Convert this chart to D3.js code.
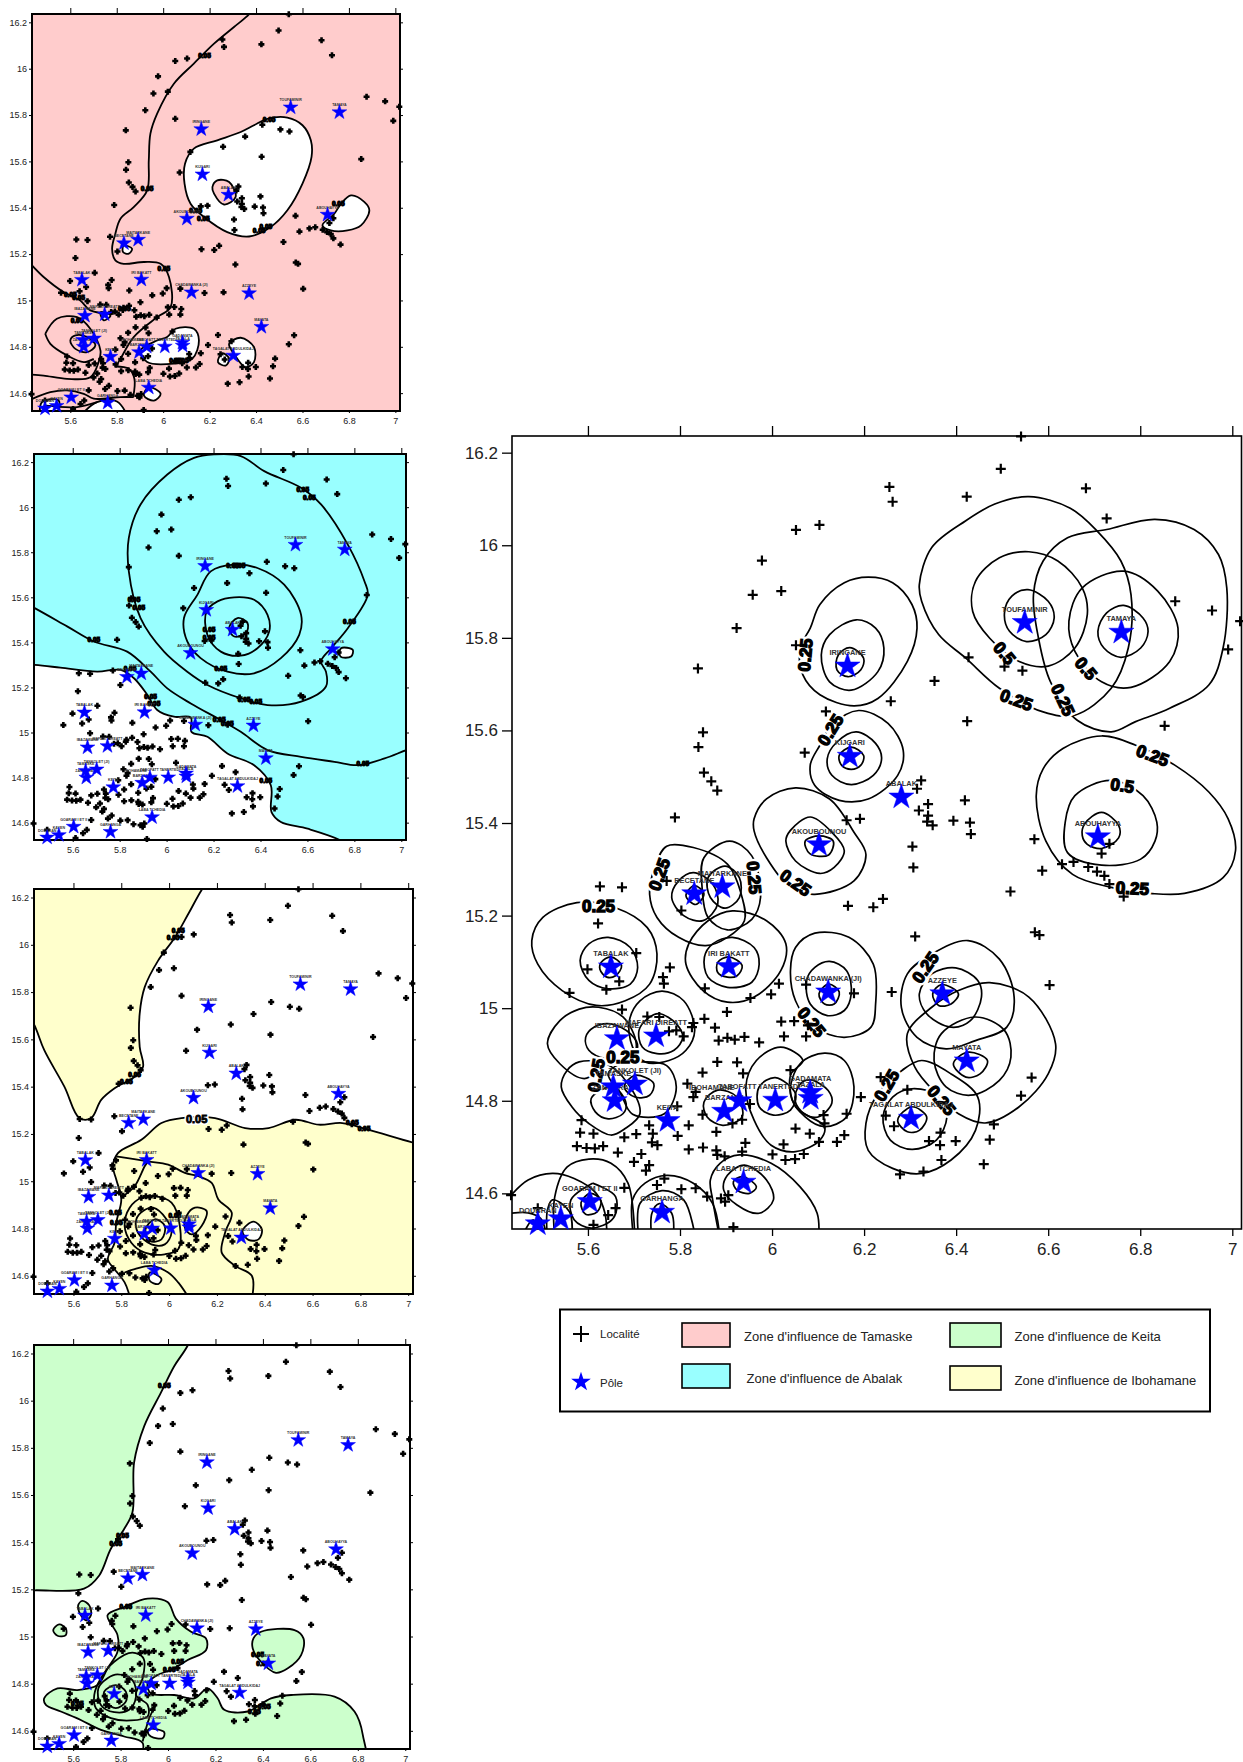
<!DOCTYPE html>
<html>
<head>
<meta charset="utf-8">
<title>Zones d'influence</title>
<script src="https://cdn.jsdelivr.net/npm/d3@7"></script>
<style>
  body { margin: 0; background: #fff; }
  svg { display: block; }
  text { font-family: "Liberation Sans", Arial, sans-serif; }
</style>
</head>
<body>
<div id="chart"></div>
<script>
// axis values
const lonTicks = [5.6, 5.8, 6, 6.2, 6.4, 6.6, 6.8, 7];
const latTicks = [14.6, 14.8, 15, 15.2, 15.4, 15.6, 15.8, 16, 16.2];
const lonDomain = [5.435, 7.02];
const latDomain = [14.523, 16.236];

// poles
const poleNames = ['TOUFAMINIR','TAMAYA','IRINGANE','KIJGARI','ABALAK','AKOUBOUNOU','ABOUHAYYA','MAITARKANE','BECETANE','TABALAK','IRI BAKATT','CHADAWANKA (JI)','AZZEYE','IBAZAWANE','MAFARI DIREATT','MAYATA','TANKOLET (JI)','TAMASKE','ZANGARATA','KEITA','BARZANKI','IBOHAMANE','TABOFATT TANERTEDI','GADAMATA','TAZALA','TAGALAT ABDULKIDAJ','LABA TCHEDIA','GOARAM I ET II','GARHANGA','DOUBRAN','KAYEN'];
const poleLon = [6.549,6.759,6.164,6.169,6.281,6.102,6.708,5.892,5.831,5.650,5.906,6.122,6.370,5.663,5.748,6.423,5.702,5.655,5.658,5.773,5.896,5.929,6.007,6.083,6.084,6.302,5.938,5.604,5.761,5.491,5.541];
const poleLat = [15.833,15.812,15.739,15.544,15.456,15.353,15.370,15.262,15.247,15.089,15.090,15.035,15.031,14.934,14.940,14.886,14.836,14.830,14.800,14.757,14.777,14.800,14.801,14.818,14.805,14.762,14.624,14.582,14.559,14.534,14.545];
const labelShift = { 'IBOHAMANE': -0.06, 'TABOFATT TANERTEDI': -0.035 };

// localites
const localities = [
[6.541,16.235],[6.497,16.165],[6.255,16.126],[6.262,16.094],[6.423,16.105],[6.682,16.123],[6.727,16.058],[6.052,16.033],[6.103,16.044],[5.978,15.967],[5.958,15.893],[6.020,15.901],[5.923,15.821],[6.052,15.784],[5.839,15.734],[6.427,15.758],[6.505,15.738],[6.544,15.729],[6.353,15.707],[6.258,15.663],[6.117,15.641],[6.424,15.620],[6.876,15.879],[6.956,15.859],[7.017,15.836],[6.991,15.775],[6.853,15.610],[5.850,15.596],[5.840,15.564],[6.071,15.552],[5.852,15.509],[5.868,15.490],[5.881,15.470],[6.324,15.492],[6.315,15.474],[6.339,15.441],[6.319,15.427],[6.339,15.416],[6.337,15.403],[6.349,15.395],[6.419,15.449],[6.394,15.405],[6.430,15.401],[6.432,15.376],[5.789,15.412],[6.162,15.406],[6.191,15.409],
[6.305,15.349],[6.307,15.304],[6.570,15.365],[6.630,15.311],[6.655,15.316],[6.687,15.305],[6.706,15.295],[6.722,15.286],[6.733,15.268],[6.764,15.241],[6.716,15.334],[6.733,15.355],[6.587,15.297],[6.518,15.252],[6.165,15.221],[6.220,15.218],[6.241,15.236],[6.311,15.155],[6.571,15.164],[6.581,15.158],[6.603,15.050],[6.260,15.035],[5.626,15.263],[5.674,15.261],[5.622,15.183],[5.771,15.275],[5.803,15.211],[5.705,15.119],[5.599,15.084],[5.668,15.058],[5.640,15.040],[5.560,15.033],[5.778,15.088],[5.763,15.067],[5.765,15.053],[5.854,15.043],[6.015,15.053],[5.998,15.030],[5.953,15.022],[6.074,15.051],[6.178,15.032],[5.902,14.992],[5.674,14.997],[5.729,14.982],[5.755,14.981],[5.853,14.977],[5.829,14.968],[5.826,14.959],[5.876,14.958],[6.020,14.971],[6.048,14.972],[6.078,14.963],[6.026,14.939],[6.074,14.939],[5.940,14.938],[5.972,14.926],[5.884,14.930],[5.903,14.936],[5.919,14.932],[5.808,14.939],[5.792,14.952],[5.776,14.950],[5.881,14.884],[5.924,14.883],[5.849,14.861],[5.937,14.859],[6.040,14.866],[5.816,14.837],[5.834,14.819],[5.829,14.808],[5.794,14.788],[5.952,14.793],[5.849,14.770],[5.935,14.759],[5.914,14.751],[6.112,14.769],[6.114,14.751],[6.162,14.772],[6.193,14.808],[6.236,14.851],[6.564,14.850],[6.541,14.811],[6.294,14.824],[6.247,14.768],[6.265,14.745],[6.366,14.731],[6.341,14.713],[6.365,14.704],[6.399,14.713],[6.368,14.672],[6.473,14.716],[6.482,14.749],[6.460,14.663],[6.278,14.641],[6.329,14.647],
[5.586,14.758],[5.583,14.731],[5.612,14.729],[5.679,14.721],[5.705,14.728],[5.741,14.729],[5.733,14.747],[5.819,14.747],[5.795,14.724],[5.739,14.710],[5.751,14.704],[5.576,14.702],[5.597,14.698],[5.615,14.697],[5.633,14.702],[5.665,14.688],[5.716,14.685],[5.700,14.668],[5.733,14.661],[5.726,14.649],[5.819,14.695],[5.850,14.699],[5.879,14.693],[5.881,14.683],[5.897,14.680],[5.935,14.690],[5.942,14.709],[5.879,14.733],[6.025,14.706],[6.001,14.684],[6.029,14.672],[6.050,14.674],[6.069,14.685],[6.102,14.711],[6.051,14.740],[6.082,14.729],[6.141,14.711],[6.157,14.726],[5.766,14.632],[5.750,14.618],[5.803,14.609],[5.834,14.611],[5.859,14.593],[5.889,14.589],[5.905,14.596],[5.898,14.582],[5.679,14.612],[5.660,14.568],[5.644,14.553],[5.612,14.532],[5.433,14.596],[5.491,14.568],[5.916,14.527]
];

// main map contours (closed)
const mainRings = [
[[6.558,16.105],[6.648,16.080],[6.706,16.031],[6.758,15.966],[6.780,15.893],[6.774,15.778],[6.737,15.691],[6.658,15.633],[6.589,15.640],[6.494,15.691],[6.421,15.756],[6.362,15.807],[6.325,15.879],[6.320,15.915],[6.347,15.995],[6.421,16.053],[6.484,16.089]],
[[6.558,15.986],[6.621,15.966],[6.674,15.908],[6.685,15.850],[6.658,15.778],[6.600,15.739],[6.537,15.749],[6.473,15.799],[6.436,15.857],[6.442,15.922],[6.494,15.973]],
[[6.556,15.904],[6.600,15.879],[6.613,15.843],[6.595,15.807],[6.553,15.792],[6.516,15.814],[6.505,15.854],[6.521,15.890]],
[[6.832,16.056],[6.917,16.034],[6.970,15.980],[6.988,15.908],[6.980,15.778],[6.949,15.698],[6.864,15.648],[6.790,15.619],[6.737,15.597],[6.663,15.622],[6.605,15.705],[6.579,15.799],[6.568,15.893],[6.589,15.966],[6.642,16.016],[6.727,16.034]],
[[6.764,15.944],[6.838,15.901],[6.882,15.821],[6.864,15.749],[6.780,15.693],[6.716,15.705],[6.658,15.771],[6.645,15.836],[6.674,15.908]],
[[6.764,15.870],[6.806,15.843],[6.817,15.814],[6.801,15.778],[6.758,15.758],[6.721,15.778],[6.708,15.814],[6.727,15.854]],
[[6.209,15.931],[6.262,15.919],[6.304,15.872],[6.315,15.821],[6.294,15.749],[6.230,15.669],[6.178,15.653],[6.104,15.677],[6.067,15.720],[6.061,15.778],[6.083,15.821],[6.104,15.872],[6.157,15.919]],
[[6.183,15.839],[6.225,15.821],[6.243,15.778],[6.230,15.727],[6.172,15.687],[6.125,15.705],[6.107,15.763],[6.125,15.807]],
[[6.169,15.779],[6.199,15.756],[6.193,15.731],[6.165,15.716],[6.141,15.731],[6.144,15.763]],
[[6.188,15.643],[6.252,15.615],[6.285,15.557],[6.273,15.503],[6.209,15.452],[6.146,15.449],[6.093,15.481],[6.083,15.525],[6.104,15.568],[6.130,15.611]],
[[6.183,15.597],[6.225,15.572],[6.238,15.539],[6.220,15.503],[6.172,15.483],[6.130,15.503],[6.120,15.539],[6.141,15.575]],
[[6.172,15.564],[6.199,15.546],[6.193,15.525],[6.172,15.516],[6.151,15.525],[6.146,15.546]],
[[6.051,15.476],[6.125,15.452],[6.178,15.380],[6.204,15.332],[6.178,15.275],[6.093,15.246],[6.040,15.261],[5.988,15.325],[5.961,15.383],[5.961,15.409],[5.988,15.452]],
[[6.083,15.413],[6.130,15.380],[6.157,15.340],[6.135,15.304],[6.104,15.291],[6.051,15.318],[6.030,15.361],[6.040,15.384]],
[[6.103,15.372],[6.133,15.361],[6.123,15.331],[6.082,15.334],[6.072,15.361]],
[[6.716,15.588],[6.790,15.568],[6.875,15.525],[6.949,15.467],[6.991,15.409],[7.007,15.340],[6.980,15.282],[6.896,15.248],[6.822,15.248],[6.737,15.261],[6.653,15.289],[6.595,15.361],[6.574,15.459],[6.589,15.517],[6.632,15.561]],
[[6.737,15.492],[6.806,15.459],[6.836,15.402],[6.832,15.361],[6.801,15.322],[6.716,15.309],[6.642,15.336],[6.637,15.402],[6.658,15.459]],
[[6.716,15.423],[6.753,15.395],[6.753,15.368],[6.716,15.345],[6.685,15.354],[6.674,15.373],[6.679,15.398]],
[[5.908,15.361],[5.956,15.329],[5.975,15.239],[5.956,15.192],[5.903,15.169],[5.861,15.196],[5.848,15.261],[5.852,15.325]],
[[5.898,15.307],[5.929,15.282],[5.929,15.239],[5.898,15.216],[5.866,15.239],[5.861,15.282]],
[[5.771,15.350],[5.829,15.347],[5.903,15.311],[5.935,15.239],[5.940,15.189],[5.903,15.153],[5.856,15.135],[5.797,15.153],[5.750,15.196],[5.734,15.246],[5.745,15.304]],
[[5.829,15.293],[5.871,15.268],[5.882,15.225],[5.850,15.189],[5.808,15.200],[5.782,15.239],[5.797,15.275]],
[[5.831,15.265],[5.852,15.247],[5.834,15.224],[5.813,15.243]],
[[5.914,15.210],[5.988,15.189],[6.030,15.139],[6.019,15.081],[5.961,15.024],[5.903,15.013],[5.850,15.038],[5.813,15.095],[5.819,15.139],[5.861,15.189]],
[[5.914,15.153],[5.961,15.131],[5.972,15.095],[5.956,15.056],[5.903,15.045],[5.861,15.067],[5.853,15.110],[5.871,15.139]],
[[5.906,15.111],[5.935,15.092],[5.924,15.070],[5.903,15.067],[5.882,15.077],[5.882,15.099]],
[[5.576,15.228],[5.660,15.217],[5.729,15.174],[5.750,15.117],[5.734,15.052],[5.681,15.016],[5.618,15.006],[5.544,15.038],[5.491,15.095],[5.478,15.146],[5.502,15.196]],
[[5.644,15.153],[5.692,15.131],[5.708,15.088],[5.692,15.052],[5.644,15.042],[5.602,15.060],[5.583,15.103],[5.602,15.139]],
[[5.650,15.111],[5.673,15.092],[5.660,15.070],[5.641,15.067],[5.626,15.084],[5.629,15.099]],
[[6.093,15.162],[6.167,15.153],[6.220,15.095],[6.225,15.009],[6.215,14.959],[6.157,14.937],[6.093,14.959],[6.051,15.016],[6.040,15.081],[6.051,15.131]],
[[6.125,15.101],[6.162,15.081],[6.172,15.031],[6.157,14.995],[6.120,14.984],[6.083,15.009],[6.075,15.060],[6.093,15.088]],
[[6.123,15.052],[6.146,15.035],[6.135,15.009],[6.114,15.009],[6.102,15.031]],
[[6.426,15.146],[6.494,15.106],[6.526,15.024],[6.510,14.959],[6.442,14.930],[6.378,14.912],[6.315,14.937],[6.281,15.002],[6.294,15.074],[6.347,15.117]],
[[6.399,15.087],[6.447,15.060],[6.455,15.024],[6.431,14.973],[6.389,14.959],[6.336,14.988],[6.320,15.031],[6.347,15.074]],
[[6.368,15.051],[6.405,15.031],[6.389,15.009],[6.362,15.006],[6.349,15.031]],
[[6.473,15.055],[6.558,15.024],[6.616,14.923],[6.600,14.858],[6.537,14.787],[6.463,14.752],[6.405,14.772],[6.357,14.815],[6.310,14.873],[6.294,14.945],[6.347,15.002],[6.405,15.038]],
[[6.442,14.981],[6.505,14.952],[6.519,14.894],[6.494,14.844],[6.431,14.812],[6.378,14.830],[6.352,14.887],[6.368,14.945]],
[[6.426,14.905],[6.468,14.887],[6.452,14.858],[6.421,14.851],[6.394,14.880]],
[[6.325,14.887],[6.389,14.858],[6.447,14.808],[6.442,14.736],[6.389,14.672],[6.325,14.643],[6.262,14.654],[6.209,14.693],[6.204,14.751],[6.230,14.815],[6.283,14.866]],
[[6.304,14.826],[6.368,14.808],[6.380,14.765],[6.357,14.715],[6.304,14.695],[6.257,14.715],[6.241,14.765],[6.262,14.808]],
[[6.304,14.787],[6.336,14.765],[6.320,14.736],[6.294,14.733],[6.273,14.758]],
[[6.114,14.903],[6.157,14.887],[6.178,14.830],[6.162,14.765],[6.114,14.744],[6.072,14.765],[6.040,14.815],[6.061,14.880]],
[[6.083,14.845],[6.122,14.822],[6.130,14.795],[6.100,14.765],[6.070,14.772],[6.050,14.800],[6.060,14.835]],
[[6.019,14.916],[6.067,14.887],[6.040,14.855],[6.051,14.787],[6.114,14.744],[6.104,14.715],[6.051,14.690],[5.998,14.704],[5.961,14.758],[5.943,14.830],[5.966,14.887]],
[[6.007,14.850],[6.051,14.815],[6.040,14.780],[6.003,14.769],[5.972,14.787],[5.972,14.830]],
[[5.882,14.823],[5.924,14.808],[5.935,14.765],[5.893,14.747],[5.859,14.765],[5.852,14.797]],
[[5.581,14.884],[5.639,14.880],[5.687,14.837],[5.713,14.772],[5.681,14.740],[5.650,14.726],[5.602,14.751],[5.565,14.787],[5.542,14.830],[5.555,14.866]],
[[5.655,14.830],[5.683,14.794],[5.676,14.772],[5.644,14.761],[5.616,14.776],[5.607,14.805]],
[[5.718,14.884],[5.771,14.876],[5.792,14.830],[5.766,14.772],[5.697,14.771],[5.671,14.815],[5.644,14.858],[5.671,14.880]],
[[5.702,14.855],[5.743,14.837],[5.734,14.812],[5.702,14.808],[5.679,14.830]],
[[5.623,15.002],[5.676,14.981],[5.705,14.923],[5.692,14.880],[5.644,14.880],[5.592,14.848],[5.539,14.880],[5.512,14.923],[5.539,14.973],[5.581,14.998]],
[[5.650,14.966],[5.692,14.945],[5.708,14.916],[5.687,14.894],[5.639,14.891],[5.602,14.909],[5.595,14.937],[5.613,14.959]],
[[5.761,15.037],[5.808,15.016],[5.832,14.952],[5.813,14.909],[5.776,14.887],[5.724,14.884],[5.697,14.916],[5.690,14.973],[5.713,15.016]],
[[5.755,14.988],[5.792,14.966],[5.806,14.937],[5.787,14.909],[5.750,14.902],[5.718,14.916],[5.711,14.952],[5.729,14.977]],
[[5.605,14.600],[5.628,14.585],[5.620,14.560],[5.595,14.555],[5.585,14.580]],
[[5.940,14.661],[5.988,14.629],[6.003,14.586],[5.972,14.557],[5.924,14.575],[5.895,14.607],[5.903,14.639]],
[[5.935,14.636],[5.966,14.614],[5.951,14.600],[5.924,14.607],[5.916,14.625]]
];
// main map contours cut by the lower frame
const mainLines = [
[[5.528,14.500],[5.528,14.593],[5.555,14.657],[5.602,14.674],[5.650,14.665],[5.687,14.622],[5.702,14.500]],
[[5.610,14.622],[5.660,14.593],[5.655,14.546],[5.607,14.525],[5.570,14.543],[5.563,14.586],[5.610,14.622]],
[[5.433,14.596],[5.470,14.629],[5.523,14.643],[5.570,14.632],[5.618,14.600],[5.637,14.557],[5.641,14.500]],
[[5.433,14.557],[5.470,14.558],[5.497,14.546],[5.512,14.500]],
[[5.512,14.500],[5.512,14.564],[5.523,14.586],[5.560,14.560],[5.565,14.500]],
[[5.454,14.500],[5.481,14.543],[5.502,14.500]],
[[5.700,14.500],[5.697,14.586],[5.724,14.622],[5.771,14.639],[5.829,14.622],[5.871,14.578],[5.887,14.500]],
[[5.711,14.500],[5.713,14.578],[5.761,14.606],[5.808,14.586],[5.834,14.500]],
[[5.739,14.500],[5.739,14.557],[5.755,14.578],[5.782,14.557],[5.785,14.500]],
[[5.887,14.500],[5.871,14.586],[5.866,14.629],[5.887,14.665],[5.929,14.683],[5.998,14.665],[6.061,14.614],[6.098,14.557],[6.101,14.500]]
];
const mainLabels = ['0.25','0.25','0.5','0.5','0.25','0.25','0.25','0.5','0.25','0.25','0.25','0.25','0.25','0.25','0.25','0.25','0.25','0.25','0.25'];
const mainLabelLon = [6.072,6.127,6.505,6.682,6.531,6.632,6.827,6.761,6.783,5.755,5.961,6.051,5.623,6.333,6.086,5.676,5.618,6.249,6.368];
const mainLabelLat = [15.763,15.601,15.767,15.734,15.666,15.666,15.546,15.481,15.259,15.289,15.282,15.271,15.221,15.088,14.970,14.894,14.855,14.833,14.801];
const mainLabelAngle = [-85,-58,50,50,20,65,20,8,3,-70,85,35,0,-55,50,0,-80,-60,50];

// Tamaske
const tamaskeHoles = [
[[6.535,15.789],[6.600,15.756],[6.636,15.691],[6.639,15.619],[6.600,15.504],[6.535,15.389],[6.463,15.317],[6.370,15.276],[6.276,15.295],[6.176,15.360],[6.118,15.417],[6.092,15.504],[6.094,15.590],[6.132,15.655],[6.233,15.691],[6.334,15.727],[6.391,15.756],[6.449,15.784]],
[[6.809,15.453],[6.866,15.425],[6.888,15.389],[6.852,15.324],[6.794,15.302],[6.722,15.302],[6.686,15.324],[6.737,15.374],[6.766,15.417]],
[[6.053,14.878],[6.132,14.878],[6.154,14.827],[6.125,14.748],[6.046,14.727],[5.931,14.734],[5.902,14.784],[5.974,14.827],[6.017,14.842]],
[[6.334,14.839],[6.391,14.799],[6.391,14.734],[6.355,14.712],[6.305,14.770],[6.284,14.813]],
[[6.255,14.773],[6.284,14.748],[6.269,14.719],[6.236,14.734]],
[[5.830,15.237],[5.866,15.223],[5.852,15.202],[5.827,15.209]],
[[5.938,14.626],[5.989,14.597],[5.960,14.568],[5.917,14.590]],
[[5.715,14.561],[5.801,14.564],[5.845,14.480],[5.636,14.480]],
[[5.478,14.561],[5.550,14.568],[5.528,14.480],[5.478,14.480]],
[[5.730,14.950],[5.773,14.935],[5.744,14.914]]
];
const tamaskeIsland = [[6.233,15.518],[6.284,15.511],[6.312,15.446],[6.262,15.414],[6.219,15.461],[6.212,15.489]];
const tamaskeLines = [
[[6.400,16.280],[6.370,16.235],[6.305,16.180],[6.219,16.108],[6.132,16.022],[6.046,15.935],[5.974,15.806],[5.945,15.720],[5.938,15.604],[5.931,15.475],[5.873,15.403],[5.816,15.353],[5.794,15.288],[5.780,15.223],[5.794,15.173],[5.830,15.158],[5.917,15.166],[5.989,15.158],[6.025,15.101],[6.032,14.971],[5.974,14.928],[5.873,14.842],[5.816,14.748],[5.794,14.712]],
[[5.794,14.715],[5.852,14.705],[5.876,14.662],[5.871,14.583]],
[[5.435,15.151],[5.485,15.101],[5.571,15.036],[5.643,15.000],[5.686,14.957],[5.787,14.942]],
[[5.492,14.856],[5.542,14.921],[5.629,14.928],[5.686,14.878],[5.730,14.784],[5.722,14.734],[5.686,14.669],[5.586,14.662],[5.485,14.676],[5.420,14.681]],
[[5.492,14.856],[5.514,14.813],[5.586,14.763],[5.658,14.734],[5.701,14.748]],
[[5.420,14.568],[5.514,14.604],[5.586,14.612],[5.658,14.597],[5.701,14.576],[5.816,14.583],[5.873,14.583]],
[[5.485,14.547],[5.629,14.540],[5.715,14.561]]
];
const tamaskeRings = [[[5.600,14.827],[5.622,14.849],[5.672,14.842],[5.708,14.806],[5.672,14.777],[5.622,14.791]]];
const tamaskeBlobs = [[6.456,15.780],[6.173,15.353],[6.140,15.386],[6.442,15.317],[6.413,15.299],[6.053,14.738],[6.082,14.741],[6.003,15.137],[5.931,15.482],[5.600,15.026],[5.636,15.012],[5.629,14.914],[5.833,14.964],[6.754,15.417],[6.178,16.058]];

// Abalak
const abalakWhite = [[5.300,15.310],[5.438,15.300],[5.547,15.288],[5.704,15.270],[5.804,15.278],[5.861,15.241],[5.918,15.167],[5.960,15.100],[6.031,15.070],[6.103,15.066],[6.106,15.003],[6.174,14.981],[6.259,14.907],[6.373,14.855],[6.444,14.766],[6.447,14.647],[6.487,14.603],[6.601,14.573],[6.743,14.521],[6.850,14.450],[5.300,14.400]];
const abalakHole = [[6.743,15.374],[6.793,15.367],[6.786,15.337],[6.741,15.337]];
const abalakLines = [[[5.350,15.600],[5.438,15.552],[5.576,15.471],[5.690,15.404],[5.832,15.359],[5.932,15.270],[6.003,15.196],[6.103,15.129],[6.231,15.055],[6.316,15.003],[6.430,14.922],[6.573,14.892],[6.715,14.870],[6.815,14.855],[6.929,14.885],[7.021,14.922],[7.100,14.950]]];
const abalakRings = [
[[6.202,16.234],[6.316,16.227],[6.416,16.160],[6.573,16.086],[6.658,16.012],[6.772,15.834],[6.843,15.671],[6.857,15.611],[6.772,15.463],[6.701,15.374],[6.658,15.315],[6.679,15.270],[6.679,15.204],[6.573,15.137],[6.430,15.122],[6.316,15.152],[6.174,15.211],[6.088,15.270],[5.989,15.359],[5.889,15.508],[5.839,15.715],[5.839,15.864],[5.889,16.012],[6.003,16.145],[6.117,16.219]],
[[6.288,15.745],[6.387,15.730],[6.501,15.656],[6.573,15.522],[6.565,15.433],[6.487,15.330],[6.373,15.263],[6.259,15.270],[6.145,15.330],[6.088,15.404],[6.074,15.508],[6.131,15.611],[6.188,15.715]],
[[6.288,15.600],[6.373,15.589],[6.430,15.522],[6.437,15.448],[6.387,15.374],[6.316,15.341],[6.231,15.359],[6.174,15.433],[6.170,15.537],[6.217,15.582]],
[[6.302,15.508],[6.345,15.485],[6.338,15.441],[6.288,15.426],[6.266,15.463]]
];
const abalakBlobs = [[6.281,15.742],[6.309,15.742],[6.231,15.285],[6.330,15.144],[6.380,15.137],[5.690,15.411],[5.882,15.552],[5.861,15.589],[6.580,16.079],[6.608,16.044],[6.779,15.493],[5.932,15.159],[5.946,15.129],[6.836,14.862],[6.423,14.788],[6.181,15.456],[6.181,15.419],[5.844,15.285],[6.224,15.055],[6.259,15.040]];

// Ibohamane
const ibohamaneNW = [[5.300,16.400],[6.250,16.400],[6.136,16.232],[6.080,16.130],[6.024,16.031],[5.954,15.933],[5.898,15.821],[5.877,15.709],[5.877,15.568],[5.891,15.484],[5.856,15.442],[5.772,15.393],[5.716,15.344],[5.674,15.267],[5.625,15.267],[5.562,15.400],[5.478,15.554],[5.440,15.653],[5.300,15.950]];
const ibohamaneSE = [[7.200,15.120],[7.029,15.161],[6.836,15.217],[6.724,15.246],[6.626,15.239],[6.528,15.260],[6.416,15.225],[6.318,15.225],[6.192,15.267],[6.052,15.267],[5.968,15.246],[5.884,15.175],[5.786,15.119],[5.765,15.063],[5.779,15.007],[5.800,14.923],[5.779,14.825],[5.772,14.740],[5.744,14.670],[5.772,14.628],[5.814,14.572],[5.835,14.516],[5.870,14.400],[7.200,14.400]];
const ibohamaneHoles = [
[[6.353,14.829],[6.388,14.796],[6.374,14.754],[6.332,14.752],[6.307,14.789]],
[[5.919,14.614],[5.968,14.586],[5.954,14.565],[5.919,14.579]]
];
const ibohamaneLines = [
[[5.779,15.105],[5.912,15.084],[5.996,15.070],[6.066,15.035],[6.122,15.021],[6.178,14.993],[6.206,14.923],[6.262,14.867],[6.234,14.782],[6.220,14.698],[6.276,14.642],[6.346,14.600],[6.346,14.500]],
[[5.912,15.084],[5.898,15.063],[5.856,14.979],[5.807,14.937]],
[[5.814,14.614],[5.856,14.628],[5.926,14.642],[5.996,14.614],[6.038,14.572],[6.087,14.500]]
];
const ibohamaneRings = [
[[5.940,14.937],[6.010,14.909],[6.045,14.811],[6.038,14.712],[5.982,14.691],[5.898,14.698],[5.842,14.740],[5.814,14.811],[5.835,14.888],[5.884,14.930]],
[[5.933,14.888],[5.989,14.839],[6.010,14.782],[5.982,14.733],[5.926,14.733],[5.870,14.782],[5.863,14.839],[5.891,14.874]],
[[5.940,14.839],[5.982,14.811],[5.968,14.754],[5.919,14.747],[5.901,14.796]],
[[6.108,14.888],[6.157,14.874],[6.136,14.811],[6.094,14.775],[6.066,14.803],[6.073,14.853]]
];
const ibohamaneBlobs = [[6.038,16.060],[6.017,16.029],[5.856,15.449],[5.821,15.421],[6.766,15.246],[6.815,15.224],[5.775,14.867],[5.779,14.825],[6.024,14.853]];

// Keita
const keitaNW = [[6.083,16.234],[6.150,16.400],[5.300,16.400],[5.300,15.196],[5.440,15.196],[5.646,15.203],[5.710,15.259],[5.759,15.372],[5.815,15.456],[5.850,15.527],[5.857,15.738],[5.900,15.893],[5.970,16.034],[6.026,16.146]];
const keitaMain = [[5.745,15.090],[5.815,15.125],[5.914,15.161],[5.998,15.146],[6.033,15.076],[6.097,15.020],[6.160,14.992],[6.160,14.942],[6.083,14.900],[6.012,14.858],[5.956,14.837],[5.914,14.801],[5.928,14.759],[6.026,14.752],[6.111,14.738],[6.167,14.780],[6.209,14.738],[6.237,14.689],[6.336,14.682],[6.434,14.738],[6.519,14.752],[6.702,14.745],[6.786,14.682],[6.821,14.583],[6.821,14.400],[5.886,14.400],[5.893,14.548],[5.815,14.576],[5.717,14.604],[5.632,14.646],[5.548,14.682],[5.485,14.710],[5.478,14.738],[5.534,14.780],[5.618,14.773],[5.703,14.794],[5.745,14.865],[5.787,14.935],[5.787,15.006]];
const keitaPatches = [
[[6.392,15.020],[6.533,15.027],[6.571,14.992],[6.561,14.921],[6.505,14.865],[6.455,14.846],[6.392,14.893],[6.357,14.949],[6.360,14.992]],
[[5.639,15.151],[5.668,15.132],[5.675,15.090],[5.653,15.069],[5.625,15.104],[5.621,15.132]],
[[5.541,15.051],[5.569,15.034],[5.569,15.006],[5.534,15.003],[5.516,15.027]]
];
const keitaHole = [[5.921,14.608],[5.984,14.594],[5.977,14.569],[5.928,14.576],[5.914,14.597]];
const keitaRings = [
[[5.850,14.932],[5.897,14.907],[5.893,14.823],[5.865,14.752],[5.914,14.710],[5.914,14.661],[5.843,14.644],[5.759,14.654],[5.696,14.696],[5.689,14.752],[5.717,14.823],[5.773,14.893]],
[[5.787,14.839],[5.850,14.815],[5.865,14.745],[5.836,14.689],[5.773,14.679],[5.717,14.710],[5.706,14.780],[5.745,14.823]],
[[5.780,14.794],[5.822,14.766],[5.822,14.724],[5.780,14.696],[5.738,14.724],[5.731,14.766]]
];
const keitaLines = [[[5.949,14.710],[5.921,14.654],[5.893,14.555]]];
const keitaBlobs = [[5.984,16.062],[5.808,15.428],[5.780,15.393],[5.822,15.125],[6.040,14.893],[6.005,14.858],[6.378,14.921],[6.399,14.886],[6.406,14.703],[6.364,14.682],[5.618,14.717]];

// legend
const legendZones = ["Zone d'influence de Tamaske", "Zone d'influence de Keita", "Zone d'influence de Abalak", "Zone d'influence de Ibohamane"];
const colTamaske = '#ffcccc', colAbalak = '#99ffff', colKeita = '#ccffcc', colIbohamane = '#ffffcc';

const svg = d3.select('#chart').append('svg').attr('width', 1243).attr('height', 1762);

const ringPath = d3.line().curve(d3.curveCatmullRomClosed.alpha(0.5));
const openPath = d3.line().curve(d3.curveCatmullRom.alpha(0.5));
const starPath = d3.symbol().type(d3.symbolStar);

let clipCount = 0;
function drawPanel(p) {
    const x = d3.scaleLinear().domain(lonDomain).range([p.left, p.right]);
    const y = d3.scaleLinear().domain(latDomain).range([p.bottom, p.top]);
    const project = pts => pts.map(d => [x(d[0]), y(d[1])]);
    const g = svg.append('g');

    const clipId = 'clip' + (clipCount++);
    g.append('clipPath').attr('id', clipId).append('rect')
        .attr('x', p.left).attr('y', p.top)
        .attr('width', p.right - p.left).attr('height', p.bottom - p.top);

    g.append('rect').attr('x', p.left).attr('y', p.top)
        .attr('width', p.right - p.left).attr('height', p.bottom - p.top)
        .attr('fill', p.background);

    // zones and contours
    const map = g.append('g').attr('clip-path', `url(#${clipId})`)
        .attr('stroke', '#000').attr('stroke-width', p.lineWidth).attr('stroke-linejoin', 'round');
    p.areas.forEach(a => {
        map.append('path').attr('d', ringPath(project(a.points))).attr('fill', a.fill);
    });
    p.rings.forEach(r => {
        map.append('path').attr('d', ringPath(project(r))).attr('fill', 'none');
    });
    p.lines.forEach(l => {
        map.append('path').attr('d', openPath(project(l))).attr('fill', 'none');
    });

    // contour labels squeezed on the small maps
    g.append('g').selectAll('text').data(p.blobs || []).enter().append('text')
        .attr('x', d => x(d[0])).attr('y', d => y(d[1]))
        .attr('dy', '0.35em').attr('text-anchor', 'middle')
        .attr('font-size', 6.5).attr('font-weight', 'bold')
        .attr('fill', '#000').attr('stroke', '#000').attr('stroke-width', 1)
        .text('0.05');

    // contour labels
    (p.labels || []).forEach(l => {
        const lab = g.append('g')
            .attr('transform', `translate(${x(l.lon)},${y(l.lat)}) rotate(${l.angle})`)
            .attr('text-anchor', 'middle').attr('font-weight', 'bold').attr('font-size', p.labelSize);
        lab.append('text').attr('dy', '0.35em').text(l.text)
            .attr('fill', '#fff').attr('stroke', '#fff').attr('stroke-width', p.labelSize * 0.35);
        lab.append('text').attr('dy', '0.35em').text(l.text)
            .attr('fill', '#000').attr('stroke', '#000').attr('stroke-width', p.labelSize * 0.08);
    });

    // axes
    const axisStyle = (sel) => {
        sel.select('.domain').remove();
        sel.selectAll('line').attr('stroke', '#000').attr('stroke-width', p.tickWidth);
        sel.selectAll('text').attr('font-size', p.fontSize).attr('fill', '#222');
    };
    const tickFormat = d => d;
    g.append('g').attr('transform', `translate(0,${p.bottom})`)
        .call(d3.axisBottom(x).tickValues(lonTicks).tickFormat(tickFormat).tickSize(p.tickBottom).tickPadding(p.padBottom))
        .call(axisStyle);
    g.append('g').attr('transform', `translate(0,${p.top})`)
        .call(d3.axisTop(x).tickValues(lonTicks).tickFormat('').tickSize(p.tickTop))
        .call(axisStyle);
    g.append('g').attr('transform', `translate(${p.left},0)`)
        .call(d3.axisLeft(y).tickValues(latTicks).tickFormat(tickFormat).tickSize(p.tickSide).tickPadding(p.padLeft))
        .call(axisStyle);
    if (p.rightTicks) {
        g.append('g').attr('transform', `translate(${p.right},0)`)
            .call(d3.axisRight(y).tickValues(latTicks).tickFormat('').tickSize(p.tickSide))
            .call(axisStyle);
    }

    g.append('rect').attr('x', p.left).attr('y', p.top)
        .attr('width', p.right - p.left).attr('height', p.bottom - p.top)
        .attr('fill', 'none').attr('stroke', '#000').attr('stroke-width', p.frameWidth);

    // localites
    g.append('g').selectAll('path').data(localities).enter().append('path')
        .attr('transform', d => `translate(${x(d[0])},${y(d[1])})`)
        .attr('d', `M${-p.plus},0H${p.plus}M0,${-p.plus}V${p.plus}`)
        .attr('stroke', '#000').attr('stroke-width', p.plusWidth).attr('fill', 'none');

    // pole names then stars
    g.append('g').selectAll('text').data(poleNames).enter().append('text')
        .attr('x', (d, i) => x(poleLon[i] + (labelShift[d] || 0)))
        .attr('y', (d, i) => y(poleLat[i]) - p.nameGap)
        .attr('text-anchor', 'middle').attr('font-weight', 'bold')
        .attr('font-size', p.nameSize).attr('fill', '#333')
        .text(d => d);
    g.append('g').selectAll('path').data(poleNames).enter().append('path')
        .attr('transform', (d, i) => `translate(${x(poleLon[i])},${y(poleLat[i])})`)
        .attr('d', starPath.size(p.star)())
        .attr('fill', '#0000ff').attr('stroke', '#0000ff').attr('stroke-width', 0.5);
}

const smallStyle = { fontSize: 9, tickTop: 6, tickSide: 3, tickBottom: 2, padBottom: 5, padLeft: 2, tickWidth: 1, lineWidth: 1.8, frameWidth: 2, plus: 3, plusWidth: 2.6, nameGap: 6, nameSize: 3.6, star: 68, rightTicks: true };

drawPanel(Object.assign({}, smallStyle, {
    left: 32, right: 400, top: 14, bottom: 411, background: colTamaske,
    areas: tamaskeHoles.map(points => ({ points, fill: '#fff' })).concat([{ points: tamaskeIsland, fill: colTamaske }]),
    rings: tamaskeRings, lines: tamaskeLines, blobs: tamaskeBlobs
}));
drawPanel(Object.assign({}, smallStyle, {
    left: 34, right: 406, top: 454, bottom: 840, background: colAbalak,
    areas: [{ points: abalakWhite, fill: '#fff' }, { points: abalakHole, fill: '#fff' }],
    rings: abalakRings, lines: abalakLines, blobs: abalakBlobs
}));
drawPanel(Object.assign({}, smallStyle, {
    left: 34, right: 413, top: 889, bottom: 1294, background: '#fff',
    areas: [{ points: ibohamaneNW, fill: colIbohamane }, { points: ibohamaneSE, fill: colIbohamane }]
        .concat(ibohamaneHoles.map(points => ({ points, fill: '#fff' }))),
    rings: ibohamaneRings, lines: ibohamaneLines, blobs: ibohamaneBlobs,
    labels: [{ lon: 6.115, lat: 15.264, angle: 0, text: '0.05' }], labelSize: 11
}));
drawPanel(Object.assign({}, smallStyle, {
    left: 34, right: 410, top: 1345, bottom: 1749, background: '#fff',
    areas: [{ points: keitaNW, fill: colKeita }, { points: keitaMain, fill: colKeita }]
        .concat(keitaPatches.map(points => ({ points, fill: colKeita })))
        .concat([{ points: keitaHole, fill: '#fff' }]),
    rings: keitaRings, lines: keitaLines, blobs: keitaBlobs
}));
drawPanel({
    left: 512, right: 1241.5, top: 436, bottom: 1229, background: '#fff',
    areas: [], rings: mainRings, lines: mainLines,
    labels: mainLabels.map((text, i) => ({ text, lon: mainLabelLon[i], lat: mainLabelLat[i], angle: mainLabelAngle[i] })),
    labelSize: 17,
    fontSize: 17, tickTop: 10, tickSide: 10, tickBottom: 7, padBottom: 7, padLeft: 4, tickWidth: 1.3, lineWidth: 1.7, frameWidth: 1.6,
    plus: 5, plusWidth: 2.2, nameGap: 11, nameSize: 7.4, star: 195, rightTicks: false
});

// legend
const legend = svg.append('g');
legend.append('rect').attr('x', 560).attr('y', 1309.5).attr('width', 650).attr('height', 102)
    .attr('fill', '#fff').attr('stroke', '#000').attr('stroke-width', 2);
legend.append('path').attr('d', 'M573,1334H589M581,1326V1342').attr('stroke', '#000').attr('stroke-width', 2);
legend.append('path').attr('transform', 'translate(581,1382)').attr('d', starPath.size(120)()).attr('fill', '#0000ff');
legend.append('text').attr('x', 600).attr('y', 1338).attr('font-size', 11.5).attr('fill', '#222').text('Localité');
legend.append('text').attr('x', 600).attr('y', 1387).attr('font-size', 11.5).attr('fill', '#222').text('Pôle');
const swatchX = [682, 950, 682, 950];
const swatchY = [1323, 1323, 1364, 1366];
const swatchW = [48, 51, 48, 51];
const swatchFill = [colTamaske, colKeita, colAbalak, colIbohamane];
const zoneX = [744, 1014.5, 746.5, 1014.5];
const zoneY = [1341, 1341, 1383, 1385];
legendZones.forEach((z, i) => {
    legend.append('rect').attr('x', swatchX[i]).attr('y', swatchY[i]).attr('width', swatchW[i]).attr('height', 24)
        .attr('fill', swatchFill[i]).attr('stroke', '#000').attr('stroke-width', 1.6);
    legend.append('text').attr('x', zoneX[i]).attr('y', zoneY[i]).attr('font-size', 13).attr('fill', '#222').text(z);
});
</script>
</body>
</html>
